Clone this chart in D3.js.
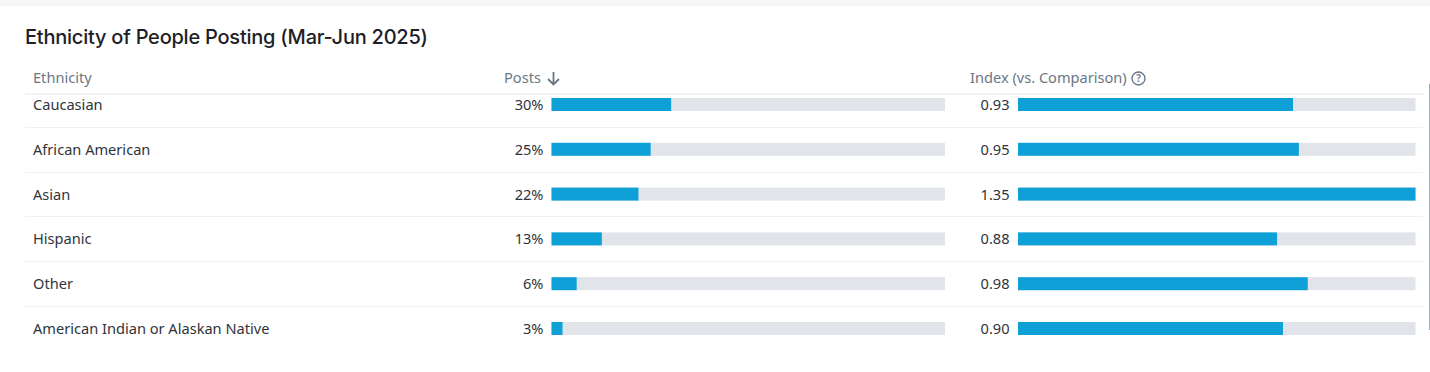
<!DOCTYPE html>
<html>
<head>
<meta charset="utf-8">
<script src="https://cdn.jsdelivr.net/npm/d3@7.9.0/dist/d3.min.js"></script>
<style>
  html, body { margin: 0; background: #fff; }
  svg { display: block; }
  text { font-family: "Noto Sans", sans-serif; }
</style>
</head>
<body>
<div id="chart"></div>
<script>
const title = 'Ethnicity of People Posting (Mar-Jun 2025)';
const columnLabels = ['Ethnicity', 'Posts', 'Index (vs. Comparison)'];
const ethnicities = ['Caucasian', 'African American', 'Asian', 'Hispanic', 'Other', 'American Indian or Alaskan Native'];
const posts = [30.4, 25.2, 22.1, 12.8, 6.4, 2.8];
const indexValues = [0.934, 0.954, 1.35, 0.88, 0.984, 0.90];

const width = 1430;
const height = 372;
const svg = d3.select('#chart').append('svg').attr('width', width).attr('height', height);

// strip of the page behind the card
svg.append('rect').attr('width', width).attr('height', 6).attr('fill', '#f6f6f7');

svg.append('text')
  .attr('x', 25).attr('y', 44)
  .attr('font-size', 20).attr('font-weight', 500).attr('fill', '#1d2126')
  .style('font-family', 'Inter, sans-serif')
  .style('letter-spacing', '-0.23px')
  .text(title);

// rows
const yScale = d3.scalePoint().domain(ethnicities).range([104.5, 328.5]);
const postsScale = d3.scaleLinear().domain([0, 100]).range([551.5, 945]);
const indexScale = d3.scaleLinear().domain([0, d3.max(indexValues)]).range([1018, 1415.5]);
const barHeight = 13;
const fontSize = 14.6;

// header
const header = svg.append('g').attr('fill', '#6b7785').attr('font-size', fontSize);
header.append('text').attr('x', 33).attr('y', 83).text(columnLabels[0]);
header.append('text').attr('x', 504).attr('y', 83).text(columnLabels[1]);
header.append('text').attr('x', 970).attr('y', 83).text(columnLabels[2]);

// sort arrow
svg.append('path')
  .attr('d', 'M553.5 72V84.5M548 79L553.5 84.5L559 79')
  .attr('fill', 'none').attr('stroke', '#6b7785').attr('stroke-width', 1.8);

// help icon
const help = svg.append('g').attr('transform', 'translate(1138.5,78.5)');
help.append('circle').attr('r', 6.5).attr('fill', 'none').attr('stroke', '#6b7785').attr('stroke-width', 1.4);
help.append('text').attr('text-anchor', 'middle').attr('y', 3.5)
  .attr('font-size', 10).attr('font-weight', 600).attr('fill', '#6b7785').text('?');

// header rule and scrollbar
svg.append('line').attr('x1', 25).attr('x2', 1424).attr('y1', 94).attr('y2', 94)
  .attr('stroke', '#eeeff1').attr('stroke-width', 1.5);
svg.append('line').attr('x1', 1429.5).attr('x2', 1429.5).attr('y1', 84).attr('y2', 330)
  .attr('stroke', '#a3abb5').attr('stroke-width', 1);

// row separators sit halfway between the rows
svg.selectAll('line.sep')
  .data(ethnicities.slice(1))
  .join('line')
  .attr('class', 'sep')
  .attr('x1', 25).attr('x2', 1423)
  .attr('y1', (d) => Math.round(yScale(d) - yScale.step() / 2) + 0.5)
  .attr('y2', (d) => Math.round(yScale(d) - yScale.step() / 2) + 0.5)
  .attr('stroke', '#f0f1f3');

svg.selectAll('text.name')
  .data(ethnicities)
  .join('text')
  .attr('class', 'name')
  .attr('x', 33)
  .attr('y', (d) => yScale(d) + 5.4)
  .attr('font-size', fontSize).attr('fill', '#2f343a')
  .text((d) => d);

function drawBars(values, scale, format, labelX) {
  const g = svg.append('g');
  const [x0, x1] = scale.range();
  g.selectAll('rect.track')
    .data(ethnicities)
    .join('rect')
    .attr('class', 'track')
    .attr('x', x0).attr('width', x1 - x0)
    .attr('y', (d) => yScale(d) - barHeight / 2)
    .attr('height', barHeight)
    .attr('fill', '#e1e4e8');
  g.selectAll('rect.value')
    .data(values)
    .join('rect')
    .attr('class', 'value')
    .attr('x', x0)
    .attr('width', (d) => scale(d) - x0)
    .attr('y', (d, i) => yScale(ethnicities[i]) - barHeight / 2)
    .attr('height', barHeight)
    .attr('fill', '#10a0d8');
  g.selectAll('text')
    .data(values)
    .join('text')
    .attr('x', labelX)
    .attr('y', (d, i) => yScale(ethnicities[i]) + 5.4)
    .attr('text-anchor', 'end')
    .attr('font-size', fontSize).attr('fill', '#2f343a')
    .text(format);
}

drawBars(posts, postsScale, (d) => Math.round(d) + '%', 543.5);
drawBars(indexValues, indexScale, d3.format('.2f'), 1009.5);
</script>
</body>
</html>
